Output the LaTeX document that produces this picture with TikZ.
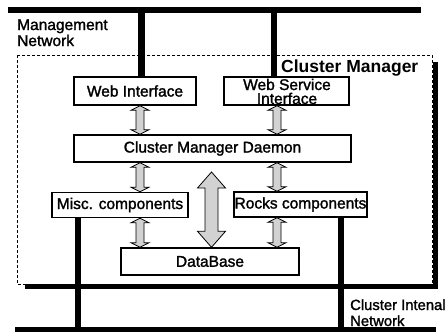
\documentclass[tikz,border=0pt]{standalone}
\usepackage{fontspec}
\setmainfont{Liberation Sans}
\newfontfamily\boxfont[FakeBold=1.6]{Liberation Sans}
\usetikzlibrary{calc}
\begin{document}
\begin{tikzpicture}[x=1pt,y=-1pt,
  box/.style={draw=black, line width=1.4pt, fill=white, inner sep=0pt, font=\boxfont\fontsize{15.5}{14.5}\selectfont, align=center},
  lbl/.style={inner sep=0pt, font=\boxfont\fontsize{15.5}{16}\selectfont, align=left},
  net/.style={line width=5.5pt, draw=black},
  drop/.style={line width=6.5pt, draw=black},
  dblarrow/.style n args={3}{fill=gray!35, draw=black, line width=0.8pt, to path={
    let \p1=(\tikztostart), \p2=(\tikztotarget) in
    -- (\x1+#2,\y1-#3) -- (\x1+#1,\y1-#3) -- (\x1+#1,\y2+#3) -- (\x2+#2,\y2+#3) -- (\x2,\y2)
    -- (\x2-#2,\y2+#3) -- (\x1-#1,\y2+#3) -- (\x1-#1,\y1-#3) -- (\x1-#2,\y1-#3) -- cycle}}
]
\useasboundingbox (0,0) rectangle (448,332);
% cluster manager frame with drop shadow
\fill[black] (433,62) rectangle (438,289);
\fill[black] (25,284) rectangle (438,289);
\draw[densely dashed, line width=0.8pt, fill=white] (17,55) rectangle (432,284);
% networks
\coordinate (mgL) at (8,10);
\coordinate (mgR) at (421,10);
\coordinate (inL) at (15,329.5);
\coordinate (inR) at (436,329.5);
\draw[net] (mgL) -- (mgR);
\draw[net] (inL) -- (inR);
% boxes
\node[box, minimum width=122pt, minimum height=28pt] (web) at (135,91) {Web Interface};
\node[box, minimum width=125pt, minimum height=28pt] (websvc) at (286.5,91) {};
\node[box, minimum width=277pt, minimum height=27pt] (daemon) at (212.5,148.5) {Cluster Manager Daemon};
\node[box, minimum width=136pt, minimum height=25pt] (misc) at (120,205) {Misc. components};
\node[box, minimum width=133pt, minimum height=25pt] (rocks) at (300.5,204.5) {Rocks components};
\node[box, minimum width=178pt, minimum height=27pt] (db) at (210,261.5) {DataBase};
\node[lbl, align=center, anchor=base, font=\boxfont\fontsize{15.5}{14}\selectfont] (wstext) at (287,104) {Web Service\\Interface};
% network drops
\coordinate (x1) at (141.5,10);
\coordinate (x2) at (274,10);
\coordinate (x3) at (78,329.5);
\coordinate (x4) at (341,329.5);
\draw[drop] (x1) -- (x1 |- web.north);
\draw[drop] (x2) -- (x2 |- websvc.north);
\draw[drop] (misc.south -| x3) -- (x3);
\draw[drop] (rocks.south -| x4) -- (x4);
% block arrows
\coordinate (cl) at (140,0);
\coordinate (cr) at (277,0);
\coordinate (cm) at (211.5,172);
\coordinate (a1s) at (web.south -| cl);
\coordinate (a1e) at (daemon.north -| cl);
\coordinate (a2s) at (websvc.south -| cr);
\coordinate (a2e) at (daemon.north -| cr);
\coordinate (a3s) at (daemon.south -| cl);
\coordinate (a3e) at (misc.north -| cl);
\coordinate (a4s) at (daemon.south -| cr);
\coordinate (a4e) at (rocks.north -| cr);
\coordinate (a5s) at (misc.south -| cl);
\coordinate (a5e) at (db.north -| cl);
\coordinate (a6s) at (rocks.south -| cr);
\coordinate (a6e) at (db.north -| cr);
\coordinate (a7e) at (db.north -| cm);
\draw[dblarrow={4pt}{9pt}{4.5pt}] (a1s) to (a1e);
\draw[dblarrow={4pt}{9pt}{4.5pt}] (a2s) to (a2e);
\draw[dblarrow={4pt}{9pt}{4.5pt}] (a3s) to (a3e);
\draw[dblarrow={4pt}{9pt}{4.5pt}] (a4s) to (a4e);
\draw[dblarrow={4pt}{9pt}{4.5pt}] (a5s) to (a5e);
\draw[dblarrow={4pt}{9pt}{4.5pt}] (a6s) to (a6e);
\draw[dblarrow={6.5pt}{14pt}{16pt}] (cm) to (a7e);
% labels
\node[lbl, anchor=base west] (mgmt) at (17,46) {Management\\Network};
\node[lbl, anchor=base west, font=\bfseries\fontsize{17.5}{18}\selectfont] (cmlabel) at (281,72) {Cluster Manager};
\node[lbl, anchor=base west, font=\boxfont\fontsize{14.8}{16}\selectfont] (cin) at (350,326) {Cluster Intenal\\Network};
\end{tikzpicture}
\end{document}
